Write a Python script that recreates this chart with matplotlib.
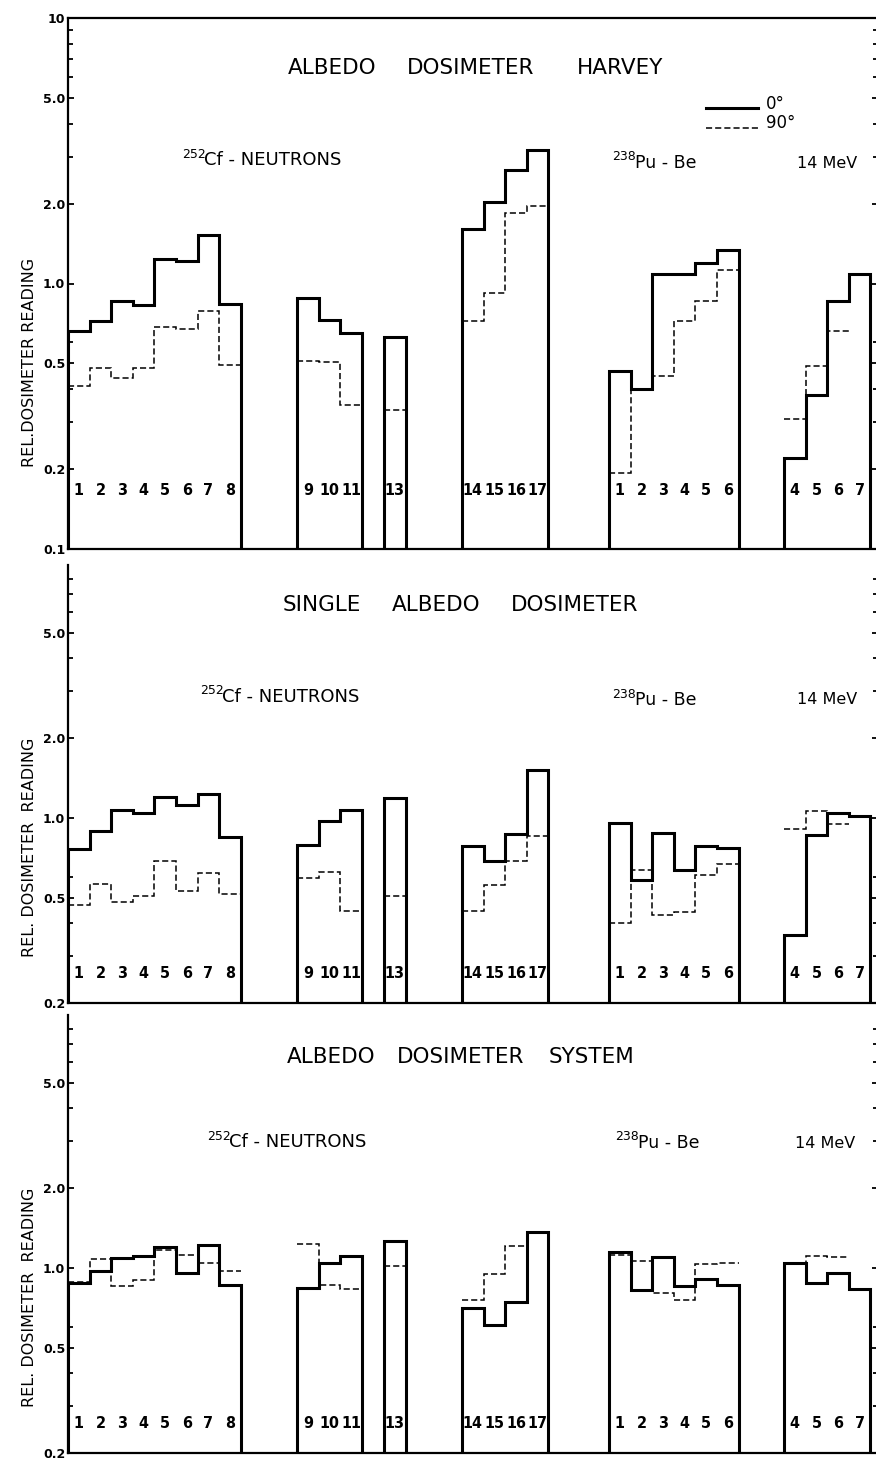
import numpy as np
import matplotlib
matplotlib.use("Agg")
import matplotlib.pyplot as plt
from matplotlib.lines import Line2D
from matplotlib.ticker import FixedLocator, FixedFormatter, NullFormatter
from matplotlib import font_manager
import matplotlib.transforms as mtransforms

plt.rcParams['font.family'] = ['DejaVu Sans']

# ---------------- data ----------------
group_labels = [
    ["1", "2", "3", "4", "5", "6", "7", "8"],
    ["9", "10", "11"],
    ["13"],
    ["14", "15", "16", "17"],
    ["1", "2", "3", "4", "5", "6"],
    ["4", "5", "6", "7"],
]

# Panel 1: ALBEDO DOSIMETER HARVEY
harvey_0deg = [
    [0.66, 0.72, 0.86, 0.83, 1.24, 1.22, 1.52, 0.84],
    [0.88, 0.73, 0.65],
    [0.63],
    [1.60, 2.03, 2.67, 3.18],
    [0.47, 0.40, 1.09, 1.09, 1.19, 1.34],
    [0.22, 0.38, 0.86, 1.09],
]
harvey_90deg = [
    [0.41, 0.48, 0.44, 0.48, 0.685, 0.675, 0.79, 0.495],
    [0.51, 0.505, 0.35],
    [0.335],
    [0.72, 0.92, 1.85, 1.95],
    [0.193, 0.40, 0.45, 0.72, 0.86, 1.12],
    [0.31, 0.49, 0.66, None],
]

# Panel 2: SINGLE ALBEDO DOSIMETER
single_0deg = [
    [0.76, 0.89, 1.07, 1.045, 1.20, 1.12, 1.23, 0.85],
    [0.79, 0.97, 1.07],
    [1.19],
    [0.78, 0.69, 0.87, 1.52],
    [0.96, 0.58, 0.88, 0.635, 0.78, 0.77],
    [0.36, 0.86, 1.045, 1.02],
]
single_90deg = [
    [0.47, 0.565, 0.48, 0.505, 0.69, 0.53, 0.62, 0.515],
    [0.595, 0.625, 0.445],
    [0.505],
    [0.445, 0.56, 0.69, 0.855],
    [0.40, 0.635, 0.43, 0.44, 0.61, 0.67],
    [0.91, 1.06, 0.95, None],
]

# Panel 3: ALBEDO DOSIMETER SYSTEM
system_0deg = [
    [0.875, 0.975, 1.085, 1.11, 1.20, 0.96, 1.22, 0.86],
    [0.84, 1.045, 1.11],
    [1.26],
    [0.705, 0.61, 0.745, 1.37],
    [1.15, 0.825, 1.095, 0.855, 0.905, 0.865],
    [1.04, 0.88, 0.96, 0.835],
]
system_90deg = [
    [0.885, 1.08, 0.855, 0.90, 1.165, 1.115, 1.045, 0.97],
    [1.235, 0.86, 0.83],
    [1.015],
    [0.755, 0.95, 1.205, 1.37],
    [1.115, 1.06, 0.80, 0.755, 1.03, 1.045],
    [1.04, 1.11, 1.10, None],
]

panel_titles = [
    ["ALBEDO", "DOSIMETER", "HARVEY"],
    ["SINGLE", "ALBEDO", "DOSIMETER"],
    ["ALBEDO", "DOSIMETER", "SYSTEM"],
]
ylabels = ["REL.DOSIMETER READING", "REL. DOSIMETER  READING", "REL. DOSIMETER  READING"]
legend_labels = ["0°", "90°"]

# ---------------- fonts ----------------
available = {f.name for f in font_manager.fontManager.ttflist}
condensed_dejavu = any(f.name == 'DejaVu Sans' and 'condensed' in str(f.stretch).lower()
                       for f in font_manager.fontManager.ttflist)
if 'Liberation Sans Narrow' in available:
    num_font = dict(family=['Liberation Sans Narrow', 'DejaVu Sans'], fontsize=12.5,
                    fontweight='bold')
elif condensed_dejavu:
    num_font = dict(family=['DejaVu Sans'], fontstretch='condensed', fontsize=11.5,
                    fontweight='bold')
else:
    num_font = None

# ---------------- layout ----------------
W, H = 876, 1459
fig = plt.figure(figsize=(W / 100, H / 100), dpi=100)


def fx(x):
    return x / W


def fy(y):
    return 1 - y / H


group_offsets = [0.0, 10.6, 14.63, 18.24, 25.05, 33.15]
x_left_px, x_right_px = 68, 878
bin_px = 21.6
x_max = (x_right_px - x_left_px) / bin_px

panels = [
    dict(top=18, bottom=549, ylim=(0.1, 10.0),
         major=[0.1, 0.2, 0.5, 1, 2, 5, 10],
         major_lbl=["0.1", "0.2", "0.5", "1.0", "2.0", "5.0", "10"],
         minor=[0.3, 0.4, 0.6, 3, 4, 6, 7, 8, 9], top_spine=True,
         d0=harvey_0deg, d90=harvey_90deg,
         title_x=[332, 471, 620], title_y=68,
         cf=(182, 160), pu=(612, 163), mev=(827, 163),
         ylab_y=362, ylab_fs=11.5, num_y=0.111, legend=True),
    dict(top=565, bottom=1003, ylim=(0.2, 9.0),
         major=[0.2, 0.5, 1, 2, 5],
         major_lbl=["0.2", "0.5", "1.0", "2.0", "5.0"],
         minor=[0.3, 0.4, 0.6, 3, 4, 6, 7, 8], top_spine=False,
         d0=single_0deg, d90=single_90deg,
         title_x=[322, 436, 575], title_y=605,
         cf=(200, 697), pu=(612, 700), mev=(827, 700),
         ylab_y=847, ylab_fs=11.5, num_y=0.068, legend=False),
    dict(top=1015, bottom=1453, ylim=(0.2, 9.0),
         major=[0.2, 0.5, 1, 2, 5],
         major_lbl=["0.2", "0.5", "1.0", "2.0", "5.0"],
         minor=[0.3, 0.4, 0.6, 3, 4, 6, 7, 8], top_spine=False,
         d0=system_0deg, d90=system_90deg,
         title_x=[331, 461, 592], title_y=1057,
         cf=(207, 1142), pu=(615, 1143), mev=(825, 1143),
         ylab_y=1297, ylab_fs=11.5, num_y=0.068, legend=False),
]

solid_lw = 2.2
dash_lw = 1.1
dash_style = (0, (4, 2))

for p, titles, ylab in zip(panels, panel_titles, ylabels):
    ax = fig.add_axes([fx(x_left_px), fy(p['bottom']),
                       fx(x_right_px) - fx(x_left_px),
                       (p['bottom'] - p['top']) / H])
    ax.set_yscale('log')
    ax.set_ylim(*p['ylim'])
    ax.set_xlim(0, x_max)
    ax.patch.set_alpha(0)

    for sp in ['left', 'bottom', 'right', 'top']:
        ax.spines[sp].set_linewidth(1.6)
    ax.spines['top'].set_visible(p['top_spine'])

    ax.yaxis.set_major_locator(FixedLocator(p['major']))
    ax.yaxis.set_major_formatter(FixedFormatter(p['major_lbl']))
    ax.yaxis.set_minor_locator(FixedLocator(p['minor']))
    ax.yaxis.set_minor_formatter(NullFormatter())
    ax.tick_params(axis='y', which='both', direction='in', right=True,
                   width=1.3, labelsize=9, pad=2)
    ax.tick_params(axis='y', which='major', length=4.5)
    ax.tick_params(axis='y', which='minor', length=3.5)
    for t in ax.get_yticklabels():
        t.set_fontweight('bold')
    ax.set_xticks([])

    ymin = p['ylim'][0]
    trans = mtransforms.blended_transform_factory(ax.transData, ax.transAxes)
    for off, labels, v0, v90 in zip(group_offsets, group_labels, p['d0'], p['d90']):
        n = len(v0)
        edges = off + np.arange(n + 1)
        ax.stairs(v0, edges, baseline=ymin, color='black', lw=solid_lw,
                  joinstyle='miter', zorder=3)
        vals90 = [v for v in v90 if v is not None]
        m = len(vals90)
        ax.stairs(vals90, edges[:m + 1], baseline=None, color='black',
                  lw=dash_lw, linestyle=dash_style, zorder=2)
        for i, lab in enumerate(labels):
            if num_font is not None:
                kw = num_font
            else:
                kw = dict(fontsize=11 if len(lab) == 1 else 9.5, fontweight='bold')
            ax.text(off + i + 0.5, p['num_y'], lab, transform=trans,
                    ha='center', va='center', **kw)

    # titles
    for word, xc in zip(titles, p['title_x']):
        fig.text(fx(xc), fy(p['title_y']), word, ha='center', va='center',
                 fontsize=15.5)
    # source labels
    cx, cy = p['cf']
    fig.text(fx(cx), fy(cy - 6), "252", ha='left', va='center', fontsize=9)
    fig.text(fx(cx + 22), fy(cy), "Cf - NEUTRONS", ha='left', va='center',
             fontsize=13)
    px_, py_ = p['pu']
    fig.text(fx(px_), fy(py_ - 6), "238", ha='left', va='center', fontsize=9)
    fig.text(fx(px_ + 23), fy(py_), "Pu - Be", ha='left', va='center',
             fontsize=12.5)
    mx, my = p['mev']
    fig.text(fx(mx), fy(my), "14 MeV", ha='center', va='center', fontsize=11.5)
    # y label
    fig.text(fx(30), fy(p['ylab_y']), ylab, rotation=90, ha='center',
             va='center', fontsize=p['ylab_fs'])

    if p['legend']:
        fig.add_artist(Line2D([fx(706), fx(758)], [fy(108), fy(108)],
                              transform=fig.transFigure, color='black',
                              lw=solid_lw))
        fig.add_artist(Line2D([fx(706), fx(758)], [fy(128), fy(128)],
                              transform=fig.transFigure, color='black',
                              lw=dash_lw, linestyle=dash_style))
        fig.text(fx(766), fy(104), legend_labels[0], ha='left', va='center',
                 fontsize=12)
        fig.text(fx(766), fy(123), legend_labels[1], ha='left', va='center',
                 fontsize=12)

fig.savefig("out.png", dpi=100)
